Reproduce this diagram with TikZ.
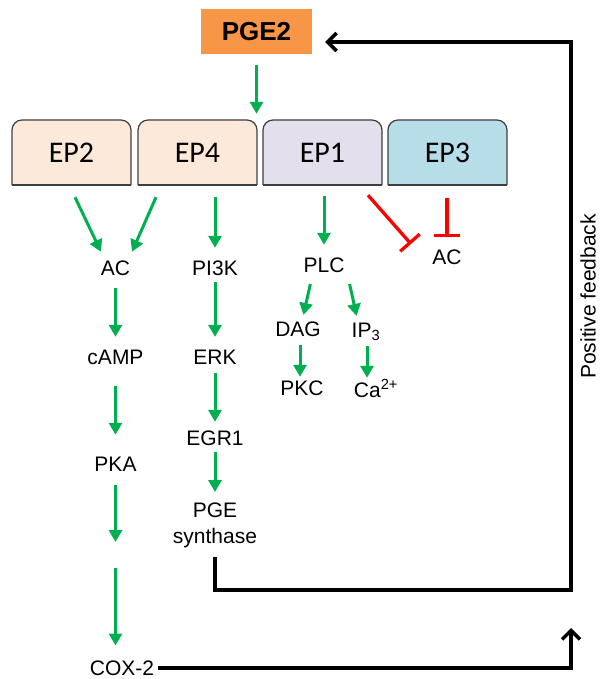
\documentclass[tikz,border=0pt]{standalone}
\usepackage{fontspec}
\setmainfont{Liberation Sans}
\newfontfamily\calib{Carlito}
\usetikzlibrary{arrows.meta}
\definecolor{pgeorange}{HTML}{F79646}
\definecolor{epsalmon}{HTML}{FDE9D9}
\definecolor{eplilac}{HTML}{E4DFEC}
\definecolor{epblue}{HTML}{B7DEE8}
\definecolor{actgreen}{HTML}{00B050}
\definecolor{framegray}{HTML}{3F3F3F}

\begin{document}
\begin{tikzpicture}[x=1pt,y=1pt,
    lbl/.style={inner sep=0pt,text height=15pt,text depth=4pt,font=\fontsize{21}{26}\selectfont},
    act/.style={-{Triangle[width=13pt,length=12pt]},line width=3pt,actgreen},
    inh/.style={-{Bar[width=26pt]},line width=3.3pt,red},
    fb/.style={line width=3.5pt,line join=miter,-{Straight Barb[length=9pt,width=18pt]}},
    epframe/.style={draw=framegray,line width=1.2pt,rounded corners=10pt},
    eplbl/.style={inner sep=0pt,minimum width=119pt,minimum height=65pt,font=\calib\fontsize{30}{36}\selectfont}]

    \useasboundingbox (0,0) rectangle (600,-679);

    \node[fill=pgeorange,minimum width=111pt,minimum height=45pt,inner sep=0pt,
        font=\bfseries\fontsize{26}{30}\selectfont] (pge2) at (256.5,-31.5) {PGE2};

    % receptors
    \foreach \nm/\txt/\cx/\fillc in {ep2/EP2/71.5/epsalmon,ep4/EP4/197.5/epsalmon,ep1/EP1/322.5/eplilac,ep3/EP3/447.5/epblue}{
        \filldraw[epframe,fill=\fillc] (\cx-59.5,-185) -- (\cx-59.5,-120) -- (\cx+59.5,-120) -- (\cx+59.5,-185);
        \draw[epframe] (\cx-59.5,-185) -- (\cx+59.5,-185);
        \node[eplbl] (\nm) at (\cx,-152.5) {\txt};
        };

    % signalling molecules
    \node[lbl] (ac) at (115.5,-270) {AC};
    \node[lbl] (camp) at (115.5,-359) {cAMP};
    \node[lbl] (pka) at (115.5,-466) {PKA};
    \coordinate (pkagap) at (115.5,-555);
    \node[lbl] (cox) at (122,-670) {COX-2};
    \node[lbl] (pi3k) at (215,-270) {PI3K};
    \node[lbl] (erk) at (215,-359) {ERK};
    \node[lbl] (egr) at (215,-440) {EGR1};
    \node[inner sep=0pt,align=center,anchor=north,font=\fontsize{21}{26}\selectfont] (pgesyn) at (215,-503) {PGE\\synthase};
    \node[lbl] (plc) at (324,-267) {PLC};
    \node[lbl] (dag) at (298,-331) {DAG};
    \node[lbl] (ipthree) at (366,-332) {IP\textsubscript{3}};
    \node[lbl] (pkc) at (302,-390) {PKC};
    \node[lbl] (ca) at (376,-392) {Ca\textsuperscript{2+}};
    \node[lbl] (acb) at (447,-259) {AC};
    \node[rotate=90,anchor=base,inner sep=0pt,font=\fontsize{21}{26}\selectfont] (fbtext) at (595.5,-296.5) {Positive feedback};

    % activation
    \draw[act,shorten <=11pt,shorten >=6pt] (pge2.south) -- (pge2.south |- ep4.north);
    \draw[act] ([shift={(3.5,-12)}]ep2.south) -- ([shift={(-14.5,8.5)}]ac.north);
    \draw[act] ([shift={(-41.5,-12)}]ep4.south) -- ([shift={(16.5,8.5)}]ac.north);
    \draw[act,shorten <=12pt,shorten >=12.5pt] (ep4.south -| pi3k.north) -- (pi3k.north);
    \draw[act,shorten <=11pt,shorten >=12.5pt] (ep1.south -| plc.north) -- (plc.north);
    \draw[act,shorten <=8.5pt,shorten >=12.5pt] (ac) -- (camp);
    \draw[act,shorten <=17.5pt,shorten >=21.5pt] (camp) -- (pka);
    \draw[act,shorten <=9.5pt,shorten >=13pt] (pka) -- (pkagap);
    \draw[act,shorten <=13pt,shorten >=24.5pt] (pkagap) -- (pkagap |- cox);
    \draw[act,shorten <=2.5pt,shorten >=12.5pt] (pi3k) -- (erk);
    \draw[act,shorten <=4.5pt,shorten >=8.5pt] (erk) -- (egr);
    \draw[act,shorten <=2.5pt,shorten >=11pt] (egr) -- (pgesyn);
    \draw[act,shorten <=7.5pt,shorten >=6.5pt] ([xshift=-12pt]plc.south) -- ([xshift=4pt]dag.north);
    \draw[act,shorten <=7.5pt,shorten >=6.5pt] ([xshift=24pt]plc.south) -- ([xshift=-8pt]ipthree.north);
    \draw[act,shorten <=4.5pt,shorten >=3.5pt] ([xshift=2pt]dag.south) -- ([xshift=-2pt]pkc.north);
    \draw[act,shorten <=4.5pt,shorten >=4.5pt] ([xshift=1pt]ipthree.south) -- ([xshift=-9pt]ca.north);

    % inhibition
    \draw[inh] ([shift={(45.5,-10)}]ep1.south) -- ([shift={(-36,15)}]acb.center);
    \draw[inh,shorten <=13pt,shorten >=12.5pt] (ep3.south -| acb.north) -- (acb.north);

    % feedback loop
    \coordinate (fbturn) at (571,-590);
    \coordinate (coxup) at (571,-628);
    \draw[fb,shorten >=13pt] ([yshift=-8.5pt]pgesyn.south) |- (fbturn) |- ([yshift=-10.5pt]pge2.east);
    \draw[fb,shorten <=4pt] ([yshift=2pt]cox.east) -| (coxup);
\end{tikzpicture}
\end{document}
